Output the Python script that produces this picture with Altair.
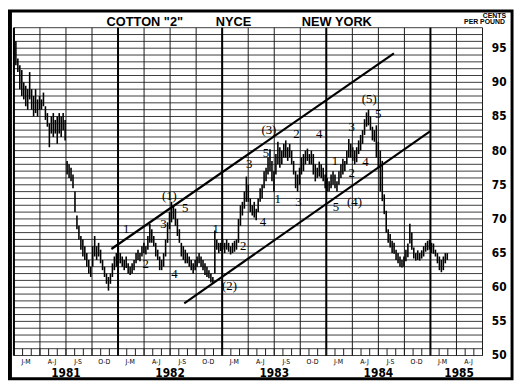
import altair as alt
import pandas as pd

# ---- weekly high / low (cents per pound), Jan 1981 -> Mar 1985
highs = [
    97.5, 96, 93.5, 92.5, 91.8, 90, 89.5, 89, 91.5, 89,
    88, 89, 87.5, 88, 87.5, 88.5, 86.5, 85.5, 84, 85,
    85.5, 84.5, 85, 85.5, 85, 85.5, 84.5, 78.5, 78, 77.5,
    76.5, 74, 70.5, 69, 67.5, 67, 66, 65, 64, 63,
    66, 67.5, 66, 66.5, 65.5, 64, 63, 62, 61.5, 62,
    63.5, 64.5, 65, 65.8, 65, 64.5, 64, 64.5, 63.5, 63,
    63.5, 64, 65, 65.5, 65, 66, 66.5, 66, 67.5, 69.3,
    68.5, 67.5, 66.5, 65.5, 64.5, 64, 65, 67, 69.5, 71,
    72.5, 72, 71.5, 70, 68.5, 66.5, 66, 65.5, 65, 64.5,
    64, 63.5, 64, 64.5, 65, 64.5, 64, 63.5, 63, 62.5,
    62, 61.5, 68.3, 67, 66.5, 66.5, 67, 66.5, 67, 66.5,
    66, 66.5, 66.8, 67, 70, 72, 72.5, 74, 76.2, 75,
    73, 72, 72.5, 71.5, 73, 74.5, 75, 77, 77.5, 79,
    80.2, 78.5, 77, 79.5, 81.3, 80.5, 80, 81, 81.5, 80.5,
    81, 80, 78.5, 77, 76.5, 77.5, 79, 79.5, 80, 80.3,
    79.5, 80, 79.5, 78, 77.5, 78.4, 78, 77.5, 76.5, 76,
    75.5, 76.5, 77, 76.5, 75.5, 77, 78, 78.8, 78.5, 80,
    81.7, 81, 80.5, 80, 80.5, 81.5, 82.3, 83, 84.6, 85.6,
    86, 85, 83.5, 83, 83.7, 81.3, 80, 78.5, 73.6, 71.2,
    68.5, 67.8, 66.8, 66.5, 65.5, 65, 64.5, 64, 64.5, 65.5,
    66.4, 69.3, 68, 65.8, 65, 65.4, 65, 65.4, 66, 66.5,
    66.8, 67, 66.5, 66.4, 65.5, 65, 64.5, 64, 64.5, 65,
    65,
]
lows = [
    94, 92.5, 91.5, 89, 88, 87.5, 86.5, 86, 87.5, 86,
    85, 85.5, 85, 86, 86, 86.5, 84.5, 83.5, 80.5, 82.5,
    82, 82.5, 81, 82.5, 82, 83, 81.5, 76.5, 76, 75.5,
    74.5, 71, 68.5, 67, 65.5, 64.5, 64, 63, 62, 61.5,
    63, 64.5, 64, 64.5, 63.5, 62.5, 61.5, 60.5, 59.5, 60.5,
    61.5, 62.5, 63, 63.5, 63.5, 63, 62.5, 62.8, 62, 61.8,
    62, 62.5, 63.5, 64, 63.8, 64.5, 65, 64.8, 65.5, 66.5,
    66.5, 66, 64.5, 64, 62.5, 62.5, 63, 64.5, 66.5, 68.5,
    69.5, 70, 69, 67.5, 66.5, 64.5, 64, 63.5, 63.5, 63,
    62.5, 62, 62.5, 63, 63.5, 63, 62.5, 61.8, 61.5, 61.3,
    60.7, 60.5, 62, 65.5, 65, 65.3, 65.5, 65, 65.5, 65.2,
    64.8, 65, 65.2, 65.5, 66.5, 69, 70.5, 71.5, 72.5, 72.5,
    71, 70.5, 70.2, 69.8, 71, 72.5, 73, 74.5, 75.5, 76.5,
    77, 75.5, 74, 76.5, 78, 77.5, 78, 79, 79, 78.5,
    79, 78, 76.5, 74.5, 74, 75, 76.5, 77, 78, 78.5,
    78, 78, 76.5, 75.5, 76, 76.2, 76, 75.5, 74.5, 74,
    74, 74.5, 75, 74.5, 74, 75, 76, 76.5, 77, 78,
    79, 79, 78.5, 78, 78.3, 79.5, 80, 81, 82.3, 83.5,
    83.7, 83, 81.5, 81.3, 79, 77.5, 74, 72.6, 70.7, 68,
    66.5, 65.8, 65, 64.9, 64, 63.5, 63, 62.9, 63, 63.8,
    64.4, 66.4, 65.5, 64.2, 63.9, 64, 63.9, 64.2, 64.5, 65.2,
    65.4, 65.5, 65, 64.9, 64.5, 63.5, 62.5, 62.2, 62.5, 63.5,
    64,
]
assert len(highs) == len(lows)
WEEK = 0.227  # months between plotted weekly bars

# ---- trend channel (month index, price)
chan_m1 = [11.23, 19.63]
chan_p1 = [65.6, 57.65]
chan_m2 = [43.79, 47.99]
chan_p2 = [94.25, 82.87]

# ---- Elliott wave labels
wave_txt = ["1", "2", "3", "4", "(1)", "5",
            "1", "2", "(2)", "3", "4", "5", "(3)",
            "1", "2", "3", "4",
            "1", "5", "(4)", "2", "3", "4", "(5)", "5"]
wave_m = [12.93, 15.2, 17.24, 18.49, 17.92, 19.74,
          23.26, 26.43, 24.84, 27.11, 28.7, 29.04, 29.38,
          30.4, 32.56, 32.78, 35.17,
          36.98, 37.1, 39.25, 38.91, 38.91, 40.5, 40.95, 41.97]
wave_p = [68.46, 63.4, 69.3, 62.0, 73.4, 71.6,
          68.5, 66.0, 60.2, 78.1, 69.6, 79.7, 83.0,
          72.9, 82.4, 72.5, 82.4,
          78.5, 71.8, 72.4, 76.7, 83.4, 78.4, 87.5, 85.3]

# ---- axis text / grid
quarter_names = ["J-M", "A-J", "J-S", "O-D"]
years = ["1981", "1982", "1983", "1984", "1985"]
price_labels = [95, 90, 85, 80, 75, 70, 65, 60, 55, 50]
grid_levels = list(range(50, 99))
quarter_lines = list(range(0, 55, 3))
year_lines = [0, 12, 24, 36, 48]
month_marks = list(range(0, 55))

W, H = 476, 333
X = alt.Scale(domain=[0, 54], nice=False, zero=False)
Y = alt.Scale(domain=[50, 98], nice=False, zero=False)
INK = "#000000"
NARROW = "Liberation Sans Narrow, DejaVu Sans Condensed, Arial Narrow, sans-serif"

bars = pd.DataFrame({"m": [i * WEEK for i in range(len(highs))], "hi": highs, "lo": lows})
hgrid = pd.DataFrame({"lvl": grid_levels, "x0": 0, "x1": 54})
qgrid = pd.DataFrame({"q": quarter_lines, "y0": 50, "y1": 98})
ygrid = pd.DataFrame({"q": year_lines, "y0": 50, "y1": 98})
mticks = pd.DataFrame({"m": month_marks, "y0": 50, "y1": 51})
chan = pd.DataFrame({"m1": chan_m1, "p1": chan_p1, "m2": chan_m2, "p2": chan_p2})
waves = pd.DataFrame({"m": wave_m, "p": wave_p, "t": wave_txt})
ql = pd.DataFrame({"m": [1.4 + 3 * k for k in range(18)],
                   "t": [quarter_names[k % 4] for k in range(18)]})
yl = pd.DataFrame({"m": [6, 18, 30, 42, 51.3], "t": years})
pl = pd.DataFrame({"v": price_labels})
one = pd.DataFrame({"a": [0]})

h_layer = alt.Chart(hgrid).mark_rule(color="#3c3c3c", strokeWidth=1).encode(
    x=alt.X("x0:Q", scale=X, axis=None), x2="x1:Q",
    y=alt.Y("lvl:Q", scale=Y, axis=None))
q_layer = alt.Chart(qgrid).mark_rule(color="#1a1a1a", strokeWidth=1).encode(
    x=alt.X("q:Q", scale=X, axis=None),
    y=alt.Y("y0:Q", scale=Y, axis=None), y2="y1:Q")
yr_layer = alt.Chart(ygrid).mark_rule(color="#000000", strokeWidth=2).encode(
    x=alt.X("q:Q", scale=X, axis=None),
    y=alt.Y("y0:Q", scale=Y, axis=None), y2="y1:Q")
mt_layer = alt.Chart(mticks).mark_rule(color="#1a1a1a", strokeWidth=1).encode(
    x=alt.X("m:Q", scale=X, axis=None),
    y=alt.Y("y0:Q", scale=Y, axis=None), y2="y1:Q")
bar_layer = alt.Chart(bars).mark_rule(color=INK, strokeWidth=1.6).encode(
    x=alt.X("m:Q", scale=X, axis=None),
    y=alt.Y("lo:Q", scale=Y, axis=None), y2="hi:Q")
chan_layer = alt.Chart(chan).mark_rule(color=INK, strokeWidth=2.2).encode(
    x=alt.X("m1:Q", scale=X, axis=None), x2="m2:Q",
    y=alt.Y("p1:Q", scale=Y, axis=None), y2="p2:Q")
wave_layer = alt.Chart(waves).mark_text(
    font="Liberation Serif, DejaVu Serif, serif", fontSize=13, color=INK).encode(
    x=alt.X("m:Q", scale=X, axis=None), y=alt.Y("p:Q", scale=Y, axis=None), text="t:N")
ql_layer = alt.Chart(ql).mark_text(font=NARROW, fontSize=7, color=INK, baseline="alphabetic").encode(
    x=alt.X("m:Q", scale=X, axis=None), y=alt.value(H + 9), text="t:N")
yl_layer = alt.Chart(yl).mark_text(font=NARROW, fontSize=12, fontWeight="bold", color=INK,
                                   baseline="alphabetic").encode(
    x=alt.X("m:Q", scale=X, axis=None), y=alt.value(H + 22), text="t:N")
pl_layer = alt.Chart(pl).mark_text(font=NARROW, fontSize=12, fontWeight="bold", color=INK,
                                   baseline="middle").encode(
    x=alt.value(W + 17), y=alt.Y("v:Q", scale=Y, axis=None), text="v:Q")

def label(txt, x, y, size, font="Liberation Sans, Arial, sans-serif"):
    return alt.Chart(one).mark_text(text=txt, font=font, fontSize=size, fontWeight="bold",
                                    color=INK, baseline="alphabetic").encode(
        x=alt.value(x), y=alt.value(y))

titles = [
    label('COTTON "2"', 133, -2, 13),
    label("NYCE", 223, -2, 13),
    label("NEW YORK", 328, -2, 13),
    label("CENTS", 488, -10, 7),
    label("PER POUND", 478, -4, 7),
]

frame = alt.Chart(one).mark_rect(filled=False, stroke="#000000", strokeWidth=3).encode(
    x=alt.value(-5), x2=alt.value(506), y=alt.value(-17), y2=alt.value(356.5))
left_bar = alt.Chart(one).mark_rect(color="#000000").encode(
    x=alt.value(-6), x2=alt.value(-2), y=alt.value(-17), y2=alt.value(356.5))

chart = alt.layer(
    h_layer, q_layer, yr_layer, mt_layer, chan_layer, bar_layer, wave_layer,
    ql_layer, yl_layer, pl_layer, *titles, frame, left_bar,
).properties(
    width=W, height=H,
    padding={"left": 6, "top": 17, "right": 33, "bottom": 32},
    autosize=alt.AutoSizeParams(type="none"),
    background="white",
).configure_view(stroke=None)

chart.save("out.html", embed_options={"renderer": "svg", "actions": False})
